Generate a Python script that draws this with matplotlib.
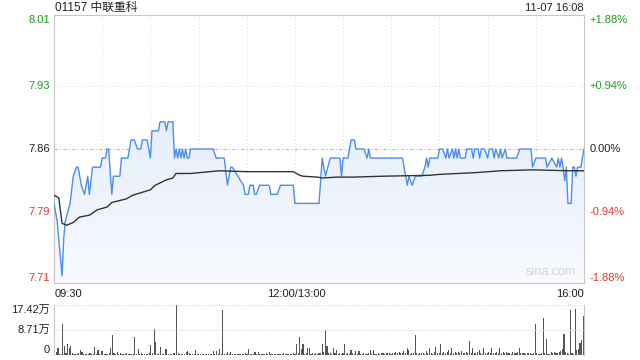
import numpy as np
import matplotlib
matplotlib.use("Agg")
import matplotlib.pyplot as plt
from matplotlib.colors import LinearSegmentedColormap
from matplotlib.patches import PathPatch

plt.rcParams['font.family'] = ['Liberation Sans', 'Noto Sans CJK SC', 'DejaVu Sans']

title = "01157 中联重科"
stamp = "11-07 16:08"
prev_close = 7.86
price_ticks = [8.01, 7.93, 7.86, 7.79, 7.71]
pct_ticks = ["+1.88%", "+0.94%", "0.00%", "-0.94%", "-1.88%"]
time_labels = ["09:30", "12:00/13:00", "16:00"]
vol_ticks = ["17.42万", "8.71万", "0"]

# minute index (0 = 09:30, 150 = 12:00/13:00, 330 = 16:00) and price
price_t = [0, 2, 5, 6, 7, 10, 12, 14, 15, 17, 19, 21, 22, 24, 29, 30, 32, 33, 34, 36,
           37, 41, 42, 46, 48, 50, 52, 54, 55, 58, 60, 61, 65, 66, 69, 70, 71, 73, 74, 75,
           76, 77, 78, 79, 80, 81, 82, 83, 84, 85, 99, 101, 106, 108, 110, 111, 118, 119, 121, 122,
           124, 125, 126, 128, 134, 135, 139, 141, 149, 150, 165, 167, 169, 172, 178, 179, 180, 183, 185, 187,
           188, 193, 195, 196, 197, 217, 220, 221, 223, 225, 229, 231, 232, 233, 234, 239, 240, 242, 244, 245,
           246, 248, 249, 250, 251, 252, 253, 256, 257, 260, 261, 262, 264, 265, 266, 268, 270, 271, 273, 274,
           275, 277, 278, 279, 281, 282, 288, 290, 297, 298, 300, 306, 307, 310, 313, 314, 315, 316, 317, 318,
           319, 320, 322, 323, 324, 325, 326, 328, 330]
price_v = [7.80, 7.78, 7.72, 7.76, 7.78, 7.80, 7.83, 7.84, 7.84, 7.82, 7.81, 7.83, 7.81, 7.84, 7.84, 7.85, 7.85, 7.86, 7.86, 7.81,
           7.83, 7.83, 7.85, 7.85, 7.87, 7.87, 7.86, 7.86, 7.87, 7.87, 7.85, 7.88, 7.88, 7.89, 7.89, 7.88, 7.89, 7.89, 7.89, 7.85,
           7.86, 7.85, 7.86, 7.85, 7.86, 7.85, 7.86, 7.85, 7.85, 7.86, 7.86, 7.85, 7.85, 7.82, 7.84, 7.84, 7.82, 7.81, 7.81, 7.82,
           7.82, 7.81, 7.81, 7.82, 7.82, 7.81, 7.81, 7.82, 7.82, 7.80, 7.80, 7.85, 7.83, 7.85, 7.85, 7.83, 7.85, 7.85, 7.87, 7.87,
           7.86, 7.86, 7.85, 7.86, 7.85, 7.85, 7.82, 7.83, 7.82, 7.83, 7.83, 7.84, 7.85, 7.84, 7.85, 7.85, 7.86, 7.86, 7.85, 7.86,
           7.85, 7.86, 7.85, 7.86, 7.85, 7.86, 7.85, 7.85, 7.86, 7.86, 7.85, 7.86, 7.86, 7.85, 7.86, 7.86, 7.85, 7.86, 7.86, 7.85,
           7.86, 7.85, 7.86, 7.85, 7.86, 7.85, 7.85, 7.86, 7.86, 7.84, 7.85, 7.85, 7.84, 7.85, 7.84, 7.85, 7.84, 7.85, 7.84, 7.825,
           7.84, 7.80, 7.80, 7.84, 7.84, 7.83, 7.84, 7.84, 7.86]

avg_t = [0, 3, 5, 8, 12, 16, 22, 27, 33, 36, 45, 49, 60, 63, 70, 74, 76, 85, 103, 120,
         149, 153, 155, 164, 167, 176, 186, 205, 234, 240, 263, 278, 298, 321, 330]
avg_v = [7.809, 7.806, 7.778, 7.776, 7.779, 7.785, 7.787, 7.793, 7.796, 7.801, 7.805, 7.809, 7.815, 7.820, 7.826, 7.828, 7.833, 7.833, 7.836, 7.835,
         7.835, 7.831, 7.830, 7.829, 7.828, 7.829, 7.829, 7.830, 7.831, 7.832, 7.834, 7.836, 7.837, 7.836, 7.836]

# volume per minute, in 万 shares
volume = [
    5.8, 0.9, 2.3, 0.5, 0.3, 10.8, 3.1, 0.6, 3.8, 2.3, 3.1, 0.7, 0.2, 0.3, 0.5, 0.8, 1.7, 1.2, 0.4, 0.3, 0.3, 0.4, 0.6, 0.3, 0.4, 2.8, 0.5, 1.7, 0.4, 1.4,
    1.4, 0.5, 0.3, 0.4, 0.6, 2.3, 7.0, 0.6, 0.4, 1.0, 0.3, 0.7, 0.5, 0.3, 0.4, 0.6, 0.3, 0.5, 0.4, 0.3, 6.4, 0.5, 2.1, 0.4, 0.6, 0.3, 0.5, 0.4, 0.3, 0.6,
    3.5, 0.7, 8.9, 4.6, 0.5, 0.3, 2.9, 0.4, 0.5, 2.1, 2.1, 0.4, 0.3, 0.5, 0.6, 0.8, 17.42, 0.6, 0.3, 0.4, 0.5, 0.3, 0.9, 1.5, 0.7, 0.4, 0.3, 0.5, 1.7, 0.4,
    0.3, 0.4, 0.5, 0.3, 0.4, 0.3, 0.5, 0.4, 0.3, 1.5, 0.4, 1.5, 0.5, 2.1, 0.4, 15.7, 0.5, 0.3, 0.9, 0.4, 0.9, 0.3, 0.5, 0.4, 0.3, 0.5, 0.4, 0.3, 0.4, 0.6,
    0.4, 2.1, 0.5, 0.3, 0.4, 0.9, 0.3, 0.9, 0.4, 0.3, 0.5, 0.4, 0.6, 0.3, 0.9, 0.4, 0.3, 0.5, 0.4, 0.3, 0.5, 0.4, 0.3, 0.6, 0.4, 0.3, 0.5, 0.4, 0.5, 0.6,
    0.5, 3.8, 0.6, 6.4, 2.1, 3.8, 0.5, 0.6, 2.3, 2.3, 0.5, 0.7, 0.4, 0.6, 0.5, 0.8, 0.6, 4.0, 1.1, 8.6, 3.1, 0.6, 0.8, 0.5, 2.3, 0.7, 1.9, 0.5, 0.6, 0.4,
    0.6, 3.7, 0.5, 0.8, 0.4, 1.9, 0.6, 0.5, 1.5, 0.4, 1.4, 0.5, 0.4, 0.6, 0.5, 0.4, 0.6, 1.9, 0.5, 1.9, 0.4, 0.5, 0.6, 0.4, 0.7, 0.6, 0.5, 0.8, 0.6, 0.7,
    0.5, 0.8, 0.6, 0.9, 0.7, 1.0, 0.6, 0.8, 1.5, 0.6, 2.6, 1.9, 0.5, 0.8, 0.6, 6.9, 0.7, 0.5, 0.8, 0.6, 0.7, 0.5, 1.4, 0.6, 2.6, 0.8, 0.5, 1.2, 2.9, 0.7,
    0.6, 4.0, 0.8, 1.2, 0.7, 0.9, 1.9, 0.6, 2.3, 0.8, 1.0, 0.6, 0.9, 0.7, 1.4, 0.6, 0.8, 1.0, 0.6, 4.8, 0.7, 2.6, 0.8, 0.6, 1.0, 1.9, 0.7, 0.5, 2.6, 0.8,
    0.6, 0.9, 0.7, 2.6, 0.6, 0.8, 1.2, 0.7, 2.6, 0.6, 0.9, 0.7, 1.0, 0.6, 0.8, 0.5, 1.2, 0.7, 0.6, 0.9, 2.6, 0.7, 0.6, 0.8, 0.5, 0.7, 0.6, 0.8, 0.5, 0.6,
    10.9, 0.6, 0.4, 0.5, 0.7, 12.9, 0.6, 5.7, 0.5, 0.4, 1.2, 0.6, 1.0, 0.7, 0.8, 1.0, 1.4, 2.0, 7.4, 0.9, 0.6, 0.5, 15.7, 0.6, 0.5, 16.0, 1.6, 2.0, 4.2, 5.4,
    13.7,
]

green = '#1a9f1a'
red = '#ee3333'
grid_c = '#dadada'
frame_c = '#c8c8c8'
ylo, yhi = prev_close * (1 - 0.0188), prev_close * (1 + 0.0188)

fig = plt.figure(figsize=(6.4, 3.6), dpi=100)
ax = fig.add_axes([54 / 640, 1 - 283 / 360, 530 / 640, 268 / 360])
axv = fig.add_axes([54 / 640, 1 - 355 / 360, 530 / 640, 50 / 360])

# price panel
ax.set_xlim(0, 330)
ax.set_ylim(ylo, yhi)
for m in range(30, 330, 30):
    ax.axvline(m, color=grid_c, lw=0.7, ls=(0, (1, 2.5)), zorder=0)
for p in [7.93, 7.79]:
    ax.axhline(p, color=grid_c, lw=0.7, ls=(0, (1, 2.5)), zorder=0)
ax.axhline(prev_close, color='#b8b8b8', lw=0.8, ls=(0, (3, 2, 1, 2)), zorder=0)

poly = ax.fill_between(price_t, price_v, ylo, color='none', lw=0)
patch = PathPatch(poly.get_paths()[0], facecolor='none', edgecolor='none', transform=ax.transData)
ax.add_patch(patch)
cmap = LinearSegmentedColormap.from_list('fill', ['#f8fafe', '#d9e6f9'])
grad = np.linspace(0, 1, 256).reshape(-1, 1)
im = ax.imshow(grad, extent=[0, 330, ylo, yhi], origin='lower', aspect='auto', cmap=cmap, zorder=1)
im.set_clip_path(patch)

ax.plot(price_t, price_v, color='#4d8ef0', lw=1.0, zorder=3)
ax.plot(avg_t, avg_v, color='#333333', lw=1.0, zorder=4)

ax.set_xticks([])
ax.set_yticks([])
for s in ax.spines.values():
    s.set_color(frame_c)
    s.set_linewidth(0.8)

ax.text(0.985, 0.02, "sina.com", transform=ax.transAxes, ha='right', va='bottom',
        fontsize=9, color='#d5d5d5')

colors = [green, green, '#222222', red, red]
for i, (p, lab, c) in enumerate(zip(price_ticks, pct_ticks, colors)):
    yp = [yhi, 7.93, prev_close, 7.79, ylo][i]
    va = 'top' if i == 0 else ('bottom' if i == 4 else 'center')
    ax.text(-0.008, yp, f"{p:.2f}", transform=ax.get_yaxis_transform(), ha='right', va=va,
            fontsize=8, color=c)
    ax.text(1.011, yp, lab, transform=ax.get_yaxis_transform(), ha='left', va=va,
            fontsize=8, color=c)

fig.text(55 / 640, 1 - 8 / 360, title, ha='left', va='center', fontsize=8.5, color='#222222')
fig.text(584 / 640, 1 - 8 / 360, stamp, ha='right', va='center', fontsize=8, color='#222222')

ty = 1 - 294 / 360
fig.text(55 / 640, ty, time_labels[0], ha='left', va='center', fontsize=8, color='#222222')
fig.text(296 / 640, ty, time_labels[1], ha='center', va='center', fontsize=8, color='#222222')
fig.text(584 / 640, ty, time_labels[2], ha='right', va='center', fontsize=8, color='#222222')

# volume panel
vmax = 17.42
axv.bar(np.arange(len(volume)), volume, width=0.7, color='#555555', lw=0)
axv.set_xlim(-0.5, 330.5)
axv.set_ylim(0, vmax)
axv.axhline(vmax, color=grid_c, lw=0.8, ls=(0, (1, 1)))
axv.axhline(vmax / 2, color=grid_c, lw=0.8, ls=(0, (1, 1)))
axv.set_xticks([])
axv.set_yticks([])
for k in ['top', 'bottom']:
    axv.spines[k].set_visible(False)
for k in ['left', 'right']:
    axv.spines[k].set_color(frame_c)
    axv.spines[k].set_linewidth(0.8)
for yv, lab, va in zip([vmax, vmax / 2, 0], vol_ticks, ['top', 'center', 'bottom']):
    axv.text(-0.008, yv, lab, transform=axv.get_yaxis_transform(), ha='right', va=va,
             fontsize=8, color='#222222')

fig.savefig("out.png", dpi=100)
